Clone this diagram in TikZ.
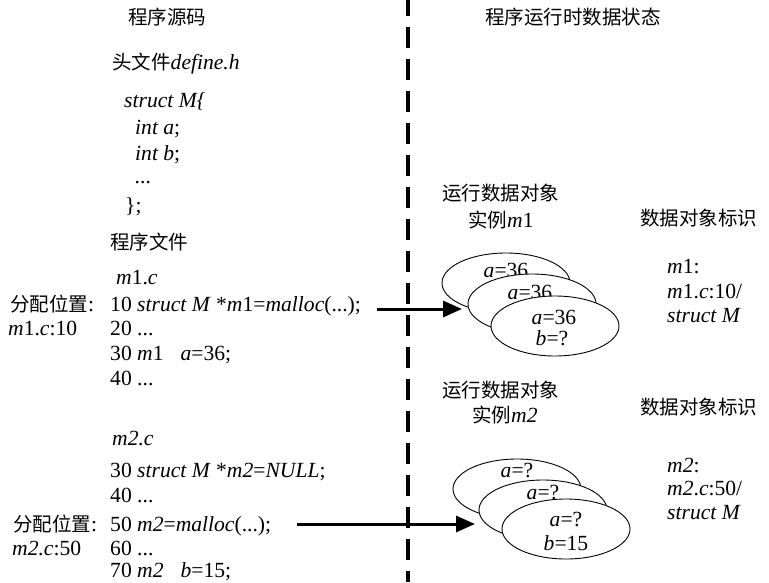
\documentclass[tikz,border=0pt]{standalone}
\usepackage{fontspec}
\setmainfont{Liberation Serif}
\newfontfamily\cjkfont{Noto Sans CJK SC}
\newcommand\zh[1]{{\cjkfont\fontsize{19.5}{24}\selectfont #1}}
\usetikzlibrary{shapes.geometric,arrows.meta}
\tikzset{
  txt/.style={inner sep=0pt, anchor=base west, font=\fontsize{21.6}{24}\selectfont},
  ctxt/.style={inner sep=0pt, anchor=base, font=\fontsize{21.6}{24}\selectfont},
  ell/.style={draw, ellipse, line width=0.9pt, fill=white, minimum width=128pt, minimum height=60pt, inner sep=0pt},
  bigarrow/.style={line width=3pt, -{Triangle[length=19pt,width=16pt]}},
  divider/.style={line width=3.5pt, dash pattern=on 21pt off 11pt, dash phase=5pt}
}
\begin{document}
\begin{tikzpicture}[x=1pt,y=-1pt]
\useasboundingbox (0,0) rectangle (769,582);
% divider
\coordinate (dtop) at (408,0);
\coordinate (dbot) at (408,582);
\draw[divider] (dtop) -- (dbot);
% left column
\node[ctxt] (t1) at (167,24) {\zh{程序源码}};
\node[txt] (hdr) at (112,69) {\zh{头文件}\textit{define.h}};
\node[txt] (s1) at (124,107) {\textit{struct M\{}};
\node[txt] (s2) at (135,134) {\textit{int a};};
\node[txt] (s3) at (135,160) {\textit{int b};};
\node[txt] (s4) at (135,183) {\textit{...}};
\node[txt] (s5) at (125,212) {\};};
\node[txt] (pf) at (110,249) {\zh{程序文件}};
\node[txt] (m1c) at (116,284) {\textit{m}1.\textit{c}};
\node[txt] (al1) at (10,311) {\zh{分配位置}:};
\node[txt] (l10) at (110,311) {10 \textit{struct M} *\textit{m}1=\textit{malloc}(...);};
\node[txt] (lm1) at (8,335) {\textit{m}1.\textit{c}:10};
\node[txt] (l20) at (110,335) {20 ...};
\node[txt] (l30) at (110,360) {30 \textit{m}1\hspace{17pt}\textit{a}=36;};
\node[txt] (l40) at (110,385) {40 ...};
\node[txt] (m2c) at (112,445) {\textit{m2.c}};
\node[txt] (n30) at (110,477) {30 \textit{struct M} *\textit{m2}=\textit{NULL};};
\node[txt] (n40) at (110,502) {40 ...};
\node[txt] (al2) at (13,531) {\zh{分配位置}:};
\node[txt] (n50) at (110,531) {50 \textit{m2}=\textit{malloc}(...);};
\node[txt] (lm2) at (12,555) {\textit{m2.c}:50};
\node[txt] (n60) at (110,555) {60 ...};
\node[txt] (n70) at (110,577) {70 \textit{m2}\hspace{17pt}\textit{b}=15;};
% right column
\node[ctxt] (rh) at (573,24) {\zh{程序运行时数据状态}};
\node[txt] (ro1) at (442,200) {\zh{运行数据对象}};
\node[txt] (ri1) at (468,227) {\zh{实例}\textit{m}1};
\node[txt] (id1) at (640,225) {\zh{数据对象标识}};
\node[txt] (k1a) at (667,273) {\textit{m}1:};
\node[txt] (k1b) at (667,298) {\textit{m}1.\textit{c}:10/};
\node[txt] (k1c) at (667,322) {\textit{struct M}};
\node[txt] (ro2) at (442,397) {\zh{运行数据对象}};
\node[txt] (ri2) at (472,422) {\zh{实例}\textit{m2}};
\node[txt] (id2) at (640,414) {\zh{数据对象标识}};
\node[txt] (k2a) at (667,472) {\textit{m2}:};
\node[txt] (k2b) at (667,495) {\textit{m2}.\textit{c}:50/};
\node[txt] (k2c) at (667,519) {\textit{struct M}};
% m1 instances
\node[ell] (e11) at (506,283) {};
\node[ctxt] (e11t) at (506,277) {\textit{a}=36};
\node[ell] (e12) at (532,304) {};
\node[ctxt] (e12t) at (530,299) {\textit{a}=36};
\node[ell] (e13) at (555,326) {};
\node[ctxt] (e13a) at (554,324) {\textit{a}=36};
\node[ctxt] (e13b) at (552,345) {\textit{b}=?};
% m2 instances
\node[ell] (e21) at (517,489) {};
\node[ctxt] (e21t) at (517,477) {\textit{a}=?};
\node[ell] (e22) at (543,510) {};
\node[ctxt] (e22t) at (543,499) {\textit{a}=?};
\node[ell] (e23) at (566,529) {};
\node[ctxt] (e23a) at (566,526) {\textit{a}=?};
\node[ctxt] (e23b) at (566,550) {\textit{b}=15};
% arrows
\coordinate (a1s) at (377,309);
\coordinate (a1e) at (462,309);
\coordinate (a2s) at (297,524);
\coordinate (a2e) at (475,524);
\draw[bigarrow] (a1s) -- (a1e);
\draw[bigarrow] (a2s) -- (a2e);
\end{tikzpicture}
\end{document}
